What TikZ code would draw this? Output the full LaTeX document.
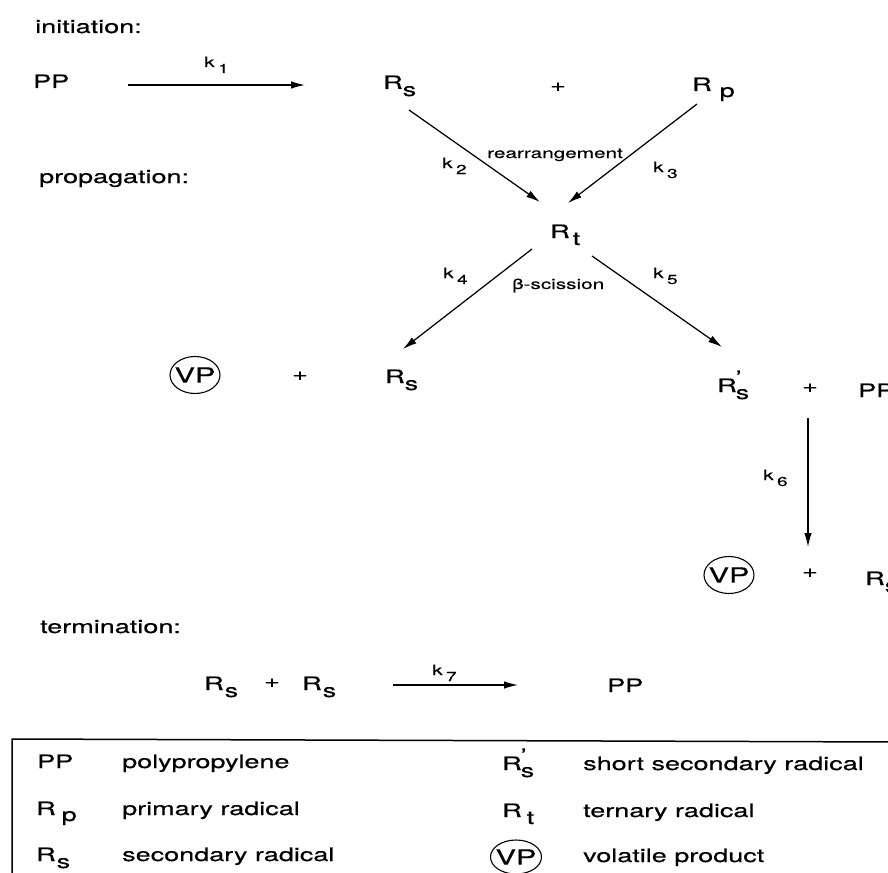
\documentclass[tikz,border=0pt]{standalone}
\usepackage{fontspec}
\setmainfont{TeX Gyre Heros}[FakeStretch=1.46,FakeBold=0.4]
\usetikzlibrary{arrows.meta,shapes.geometric}
\newcommand{\lo}[2][-7pt]{\raisebox{#1}{#2}}
\newcommand{\kk}[1]{k\kern3.5pt\raisebox{-6pt}{\fontsize{13}{13}\selectfont #1}}
\newcommand{\Rprime}{R\kern-1pt\makebox[0pt][l]{\raisebox{8pt}{'}}\lo{s}}
\begin{document}
\begin{tikzpicture}[x=1pt,y=-1pt,
  txt/.style={anchor=base west, inner sep=0pt, font=\fontsize{18.5}{20}\selectfont},
  lbl/.style={anchor=base west, inner sep=0pt, font=\fontsize{14.2}{16}\selectfont},
  plus/.style={inner sep=0pt, font=\fontsize{18.5}{20}\selectfont},
  arr/.style={line width=1.25pt, -{Latex[length=14pt,width=7.5pt]}},
  vp/.style={draw, ellipse, line width=1.1pt, minimum width=50pt, minimum height=37pt,
             inner xsep=-8pt, inner ysep=0pt, font=\fontsize{21}{21}\selectfont}]
\useasboundingbox (0,0) rectangle (888,872);
\fill[white] (0,0) rectangle (888,872);

% section titles
\node[txt] (tinit) at (35,33) {initiation:};
\node[txt] (tprop) at (39,183) {propagation:};
\node[txt] (tterm) at (40,633) {termination:};

% initiation
\node[txt] (PP1) at (33,88) {PP};
\node[txt] (Rs1) at (383,89) {R\lo{s}};
\node[plus] (pl1) at (558,87) {+};
\node[txt] (Rp1) at (692,91) {R\kern8pt\lo[-6pt]{p}};
\node[lbl] (k1) at (204,67) {\kk{1}};
\coordinate (a1s) at (128,85);
\coordinate (a1e) at (305,85);
\draw[arr] (a1s) -- (a1e);

% propagation
\node[txt] (Rt) at (550,238) {R\kern3pt\lo{t}};
\node[lbl] (rearr) at (487,158) {rearrangement};
\node[lbl] (k2) at (442,168) {\kk{2}};
\node[lbl] (k3) at (653,172) {\kk{3}};
\coordinate (a2s) at (409,110);
\coordinate (a2e) at (540,202);
\coordinate (a3s) at (697,104);
\coordinate (a3e) at (568,203);
\draw[arr] (a2s) -- (a2e);
\draw[arr] (a3s) -- (a3e);

\node[lbl] (k4) at (443,278) {\kk{4}};
\node[lbl] (k5) at (653,278) {\kk{5}};
\node[lbl] (bsc) at (512,289) {β-scission};
\coordinate (a4s) at (532,249);
\coordinate (a4e) at (403,349);
\coordinate (a5s) at (592,256);
\coordinate (a5e) at (722,347);
\draw[arr] (a4s) -- (a4e);
\draw[arr] (a5s) -- (a5e);

\node[vp] (VP1) at (195,375) {VP};
\node[plus] (pl2) at (300,376) {+};
\node[txt] (Rs2) at (385,383) {R\lo{s}};

\node[txt] (Rsp) at (717,392) {\Rprime};
\node[plus] (pl3) at (810,388) {+};
\node[txt] (PP2) at (858,397) {PP};

\node[lbl] (k6) at (763,480) {\kk{6}};
\coordinate (a6s) at (808,418);
\coordinate (a6e) at (808,547);
\draw[arr] (a6s) -- (a6e);

\node[vp] (VP2) at (729,575) {VP};
\node[plus] (pl4) at (810,573) {+};
\node[txt] (Rs3) at (865,585) {R\lo{s}};

% termination
\node[txt] (Rs4) at (204,690) {R\kern1pt\lo{s}};
\node[plus] (pl5) at (272,683) {+};
\node[txt] (Rs5) at (302,690) {R\kern1pt\lo{s}};
\node[lbl] (k7) at (432,675) {\kk{7}};
\coordinate (a7s) at (393,685);
\coordinate (a7e) at (518,685);
\draw[arr] (a7s) -- (a7e);
\node[txt] (PP3) at (607,692) {PP};

% legend
\draw[line width=1.5pt] (12,900) -- (12,739) -- (900,742);
\node[txt] (lPP) at (37,768) {PP};
\node[txt] (lPPt) at (122,768) {polypropylene};
\node[txt] (lRp) at (36,815) {R\kern6pt\lo[-6pt]{p}};
\node[txt] (lRpt) at (122,815) {primary radical};
\node[txt] (lRs) at (36,861) {R\kern1pt\lo{s}};
\node[txt] (lRst) at (122,861) {secondary radical};
\node[txt] (lRsp) at (502,770) {\Rprime};
\node[txt] (lRspt) at (583,770) {short secondary radical};
\node[txt] (lRt) at (502,817) {R\kern5pt\lo{t}};
\node[txt] (lRtt) at (583,817) {ternary radical};
\node[vp, minimum height=34pt, minimum width=51pt] (lVP) at (516,857) {VP};
\node[txt] (lVPt) at (583,862) {volatile product};
\end{tikzpicture}
\end{document}
